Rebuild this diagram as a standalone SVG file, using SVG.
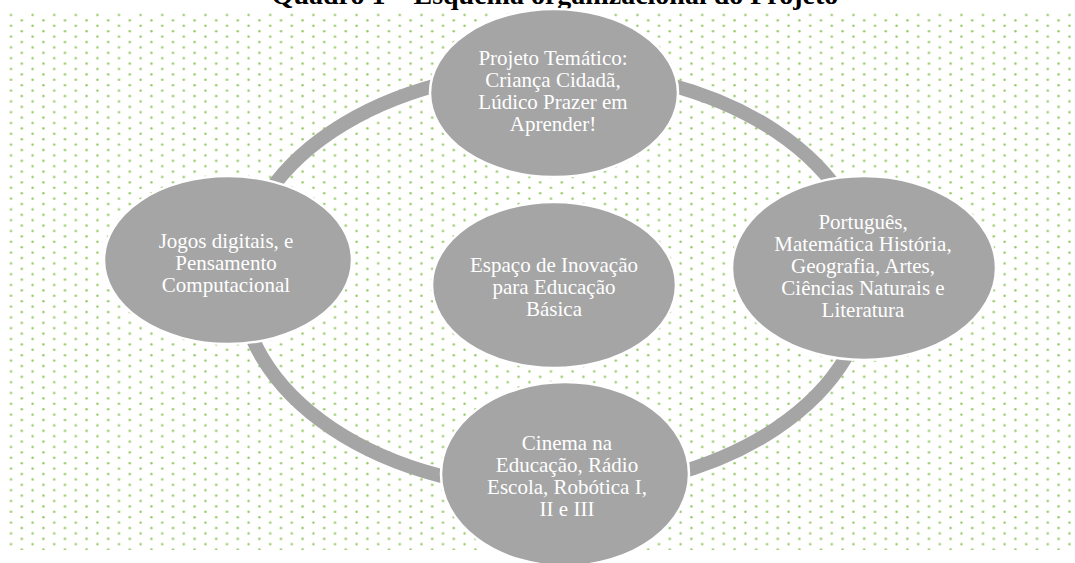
<svg xmlns="http://www.w3.org/2000/svg" width="1075" height="563" viewBox="0 0 1075 563">
  <style>
    .node { fill: #a5a5a5; stroke: #ffffff; stroke-width: 2.5; }
    .lbl { font-family: "Liberation Serif", "Times New Roman", serif; font-size: 21px; fill: #ffffff; text-anchor: middle; }
    .arc { fill: none; stroke: #a5a5a5; stroke-width: 14; }
    .title { font-family: "Liberation Serif", "Times New Roman", serif; font-size: 28px; font-weight: bold; fill: #000000; text-anchor: middle; }
  </style>
  <defs>
    <pattern id="dots" patternUnits="userSpaceOnUse" x="5.6" y="12.3" width="21.6" height="10.8">
      <circle cx="5.4" cy="2.7" r="1.2" fill="#94c862"/>
      <circle cx="16.2" cy="8.1" r="1.2" fill="#94c862"/>
    </pattern>
  </defs>
  <rect x="0" y="0" width="1075" height="563" fill="#ffffff"/>
  <rect x="8" y="12" width="1067" height="538" fill="url(#dots)"/>
  <text class="title" x="555" y="4">Quadro 1 – Esquema organizacional do Projeto</text>

  <g id="connectors">
    <path class="arc" d="M554,70 A314,210 0 0 1 868,280"/>
    <path class="arc" d="M868,280 A314,210 0 0 1 554,490"/>
    <path class="arc" d="M554,490 A314,210 0 0 1 240,280"/>
    <path class="arc" d="M240,280 A314,210 0 0 1 554,70"/>
  </g>

  <g id="node-top">
    <ellipse class="node" cx="554" cy="93" rx="124" ry="84"/>
    <text class="lbl"><tspan x="553" y="65">Projeto Temático:</tspan><tspan x="553" y="87">Criança Cidadã,</tspan><tspan x="553" y="109">Lúdico Prazer em</tspan><tspan x="553" y="131">Aprender!</tspan></text>
  </g>
  <g id="node-right">
    <ellipse class="node" cx="864" cy="268" rx="132" ry="92"/>
    <text class="lbl"><tspan x="863" y="229">Português,</tspan><tspan x="863" y="251">Matemática História,</tspan><tspan x="863" y="273">Geografia, Artes,</tspan><tspan x="863" y="295">Ciências Naturais e</tspan><tspan x="863" y="317">Literatura</tspan></text>
  </g>
  <g id="node-bottom">
    <ellipse class="node" cx="565" cy="474" rx="124" ry="92"/>
    <text class="lbl"><tspan x="567" y="450">Cinema na</tspan><tspan x="567" y="472">Educação, Rádio</tspan><tspan x="567" y="494">Escola, Robótica I,</tspan><tspan x="567" y="516">II e III</tspan></text>
  </g>
  <g id="node-left">
    <ellipse class="node" cx="228" cy="260" rx="124" ry="84"/>
    <text class="lbl"><tspan x="226" y="248">Jogos digitais, e</tspan><tspan x="226" y="270">Pensamento</tspan><tspan x="226" y="292">Computacional</tspan></text>
  </g>
  <g id="node-center">
    <ellipse class="node" cx="554" cy="285" rx="122" ry="83"/>
    <text class="lbl"><tspan x="554" y="272">Espaço de Inovação</tspan><tspan x="554" y="294">para Educação</tspan><tspan x="554" y="316">Básica</tspan></text>
  </g>
</svg>
